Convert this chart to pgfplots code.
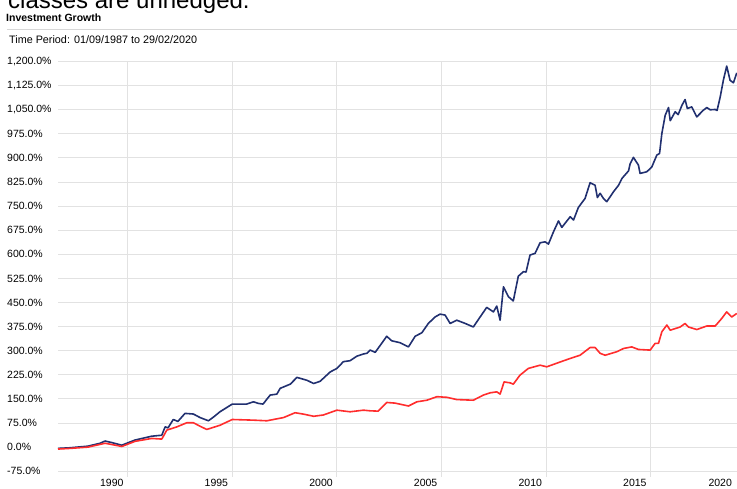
\documentclass[border=0pt]{standalone}
\usepackage{pgfplots}
\pgfplotsset{compat=1.18}
\usepackage{fontspec}
\setmainfont{Liberation Sans}
\definecolor{navyl}{RGB}{33,48,112}
\definecolor{redl}{RGB}{255,45,45}
\definecolor{gridc}{RGB}{226,226,226}
\definecolor{rulec}{RGB}{215,215,215}

\begin{document}
\begin{tikzpicture}
\path[use as bounding box] (0pt,0pt) rectangle (737pt,488pt);
\node[anchor=base west, inner sep=0pt, font=\fontsize{24}{28}\selectfont] at (8pt,479pt) {classes are unhedged.};
\node[anchor=base west, inner sep=0pt, font=\fontsize{10.5}{12}\selectfont\bfseries] at (6pt,466pt) {Investment Growth};
\draw[rulec, line width=0.8pt] (7pt,458.7pt) -- (737pt,458.7pt);
\node[anchor=base west, inner sep=0pt, font=\fontsize{10.8}{12}\selectfont] at (9pt,444pt) {Time Period: 01/09/1987 to 29/02/2020};
\begin{axis}[
  at={(58pt,11pt)}, anchor=south west,
  width=680pt, height=415.4pt, scale only axis,
  xmin=1987.67, xmax=2020.17, ymin=-93, ymax=1200,
  axis line style={draw=none},
  major tick length=0pt,
  xtick={1991,1996,2001,2006,2011,2016},
  xticklabels={1990,1995,2000,2005,2010,2015},
  extra x ticks={2020.08},
  extra x tick labels={2020},
  extra x tick style={grid=none},
  xticklabel style={anchor=north east, inner sep=0pt, yshift=-2pt, xshift=-4pt, font=\fontsize{10.5}{12}\selectfont},
  ytick={-75,0,75,...,1200},
  yticklabel={\pgfmathprintnumber{\tick}\%},
  /pgf/number format/.cd, fixed, fixed zerofill, precision=1, 1000 sep={,}, assume math mode=true,
  /pgfplots/.cd,
  yticklabel style={anchor=west, inner sep=0pt, xshift=-51pt, font=\fontsize{10.5}{12}\selectfont},
  xmajorgrids, ymajorgrids,
  grid style={gridc, line width=1pt},
  clip=false,
]
\addplot[navyl, line width=1.6pt, line join=round] coordinates {
(1987.67,-4) (1988.24,-2) (1989.10,3) (1989.68,12) (1989.92,19) (1990.25,14) (1990.72,6)
(1991.35,22) (1992.15,34) (1992.63,37) (1992.79,63) (1992.93,60) (1993.18,86) (1993.40,80)
(1993.74,105) (1994.14,103) (1994.46,92) (1994.86,82) (1995.13,95) (1995.41,110) (1996.00,134)
(1996.69,134) (1997.01,141) (1997.25,136) (1997.47,134) (1997.81,162) (1998.13,165) (1998.29,183)
(1998.77,196) (1999.09,217) (1999.57,208) (1999.89,198) (2000.20,205) (2000.68,234) (2001.00,245)
(2001.31,266) (2001.63,269) (2001.95,283) (2002.27,290) (2002.43,292) (2002.59,302) (2002.83,295)
(2003.14,323) (2003.38,345) (2003.62,331) (2004.02,325) (2004.42,312) (2004.74,345) (2005.06,356)
(2005.37,385) (2005.69,405) (2005.93,414) (2006.17,411) (2006.41,385) (2006.73,395) (2007.13,385)
(2007.52,374) (2007.76,397) (2008.16,435) (2008.48,421) (2008.64,439) (2008.80,395) (2008.96,499)
(2009.20,468) (2009.43,455) (2009.67,532) (2009.91,546) (2010.04,545) (2010.23,598) (2010.47,603)
(2010.71,636) (2010.95,639) (2011.11,632) (2011.35,670) (2011.59,704) (2011.75,684) (2012.15,717)
(2012.31,707) (2012.54,746) (2012.86,774) (2013.10,823) (2013.34,815) (2013.45,777) (2013.58,790)
(2013.74,774) (2013.90,764) (2014.22,795) (2014.46,815) (2014.62,836) (2014.86,854) (2014.94,860)
(2015.01,881) (2015.17,902) (2015.41,878) (2015.49,852) (2015.81,857) (2016.05,872) (2016.29,909)
(2016.42,914) (2016.53,976) (2016.69,1033) (2016.85,1057) (2016.93,1016) (2017.17,1044) (2017.31,1035)
(2017.49,1064) (2017.64,1082) (2017.75,1054) (2017.96,1059) (2018.20,1028) (2018.52,1049) (2018.68,1057)
(2018.84,1050) (2019.08,1051) (2019.17,1048) (2019.32,1090) (2019.47,1142) (2019.63,1186) (2019.79,1142)
(2019.95,1134) (2020.11,1165)
};
\addplot[redl, line width=1.6pt, line join=round] coordinates {
(1987.67,-6) (1988.24,-4) (1989.10,0) (1989.92,12) (1990.25,8) (1990.72,2) (1991.35,18)
(1992.15,27) (1992.63,25) (1992.87,53) (1993.35,63) (1993.83,76) (1994.14,76) (1994.46,65)
(1994.78,55) (1995.41,68) (1996.00,86) (1996.99,84) (1997.65,82) (1998.45,92) (1999.00,107)
(1999.38,103) (1999.89,96) (2000.35,100) (2001.00,115) (2001.63,110) (2002.27,115) (2002.59,113)
(2002.97,112) (2003.38,139) (2003.78,137) (2004.42,128) (2004.82,141) (2005.30,146) (2005.78,157)
(2006.26,155) (2006.73,148) (2007.52,146) (2008.00,162) (2008.32,169) (2008.64,172) (2008.80,165)
(2008.99,203) (2009.28,200) (2009.43,196) (2009.75,224) (2010.15,245) (2010.71,255) (2011.03,250)
(2011.67,265) (2012.15,276) (2012.62,286) (2013.10,310) (2013.34,310) (2013.58,292) (2013.82,286)
(2014.38,297) (2014.70,307) (2015.09,312) (2015.41,304) (2015.97,302) (2016.21,323) (2016.37,323)
(2016.53,359) (2016.77,380) (2016.93,364) (2017.41,374) (2017.64,385) (2017.80,374) (2018.20,366)
(2018.68,377) (2019.08,377) (2019.40,401) (2019.63,421) (2019.87,405) (2020.11,416)
};
\end{axis}
\end{tikzpicture}
\end{document}
